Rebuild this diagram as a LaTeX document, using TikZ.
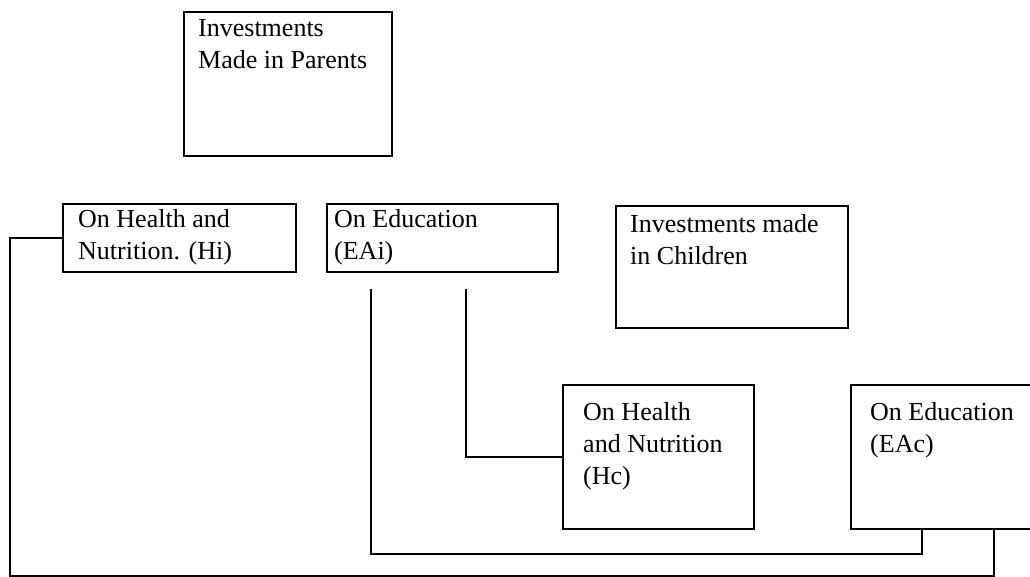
\documentclass[tikz,border=0pt]{standalone}
\usepackage{fontspec}
\setmainfont{Liberation Serif}
\usetikzlibrary{calc}
\newcommand\boxfont{\fontsize{26}{32}\selectfont}
\tikzset{
  box/.style={draw, line width=1.9pt, anchor=north west, inner sep=0pt},
  lbl/.style={anchor=north west, inner sep=0pt, align=left, font=\boxfont},
  wire/.style={line width=1.9pt}
}
\begin{document}
\begin{tikzpicture}[x=1pt,y=-1pt]
\useasboundingbox[fill=white] (0,0) rectangle (1030,576);
% boxes
\node[box, minimum width=208pt, minimum height=144pt] (par) at (183,11) {};
\node[box, minimum width=233pt, minimum height=68pt] (hi) at (62,203) {};
\node[box, minimum width=231pt, minimum height=68pt] (eai) at (326,203) {};
\node[box, minimum width=232pt, minimum height=122pt] (chi) at (615,205) {};
\node[box, minimum width=191pt, minimum height=144pt] (hc) at (562,384) {};
\node[box, minimum width=200pt, minimum height=144pt] (eac) at (850,384) {};
% texts
\node[lbl] (parT) at ($(par.north west)+(15,8)$) {Investments\\Made in Parents};
\node[lbl] (hiT) at ($(hi.north west)+(16,6)$) {On Health and\\Nutrition. (Hi)};
\node[lbl] (eaiT) at ($(eai.north west)+(8,6)$) {On Education\\(EAi)};
\node[lbl] (chiT) at ($(chi.north west)+(15,9)$) {Investments made\\in Children};
\node[lbl] (hcT) at ($(hc.north west)+(21,18)$) {On Health\\and Nutrition\\(Hc)};
\node[lbl] (eacT) at ($(eac.north west)+(20,18)$) {On Education\\(EAc)};
% free ends below EAi
\coordinate (e1) at ($(eai.south west)+(45,16)$);
\coordinate (e2) at ($(eai.south west)+(140,16)$);
% connectors
\draw[wire] (hi.west) -- ++(-52,0) |- ($(eac.south west)+(144,46)$) -- ($(eac.south west)+(144,0)$);
\draw[wire] (e1) |- ($(eac.south west)+(72,24)$) -- ($(eac.south west)+(72,0)$);
\draw[wire] (e2) |- (hc.west);
\end{tikzpicture}
\end{document}
